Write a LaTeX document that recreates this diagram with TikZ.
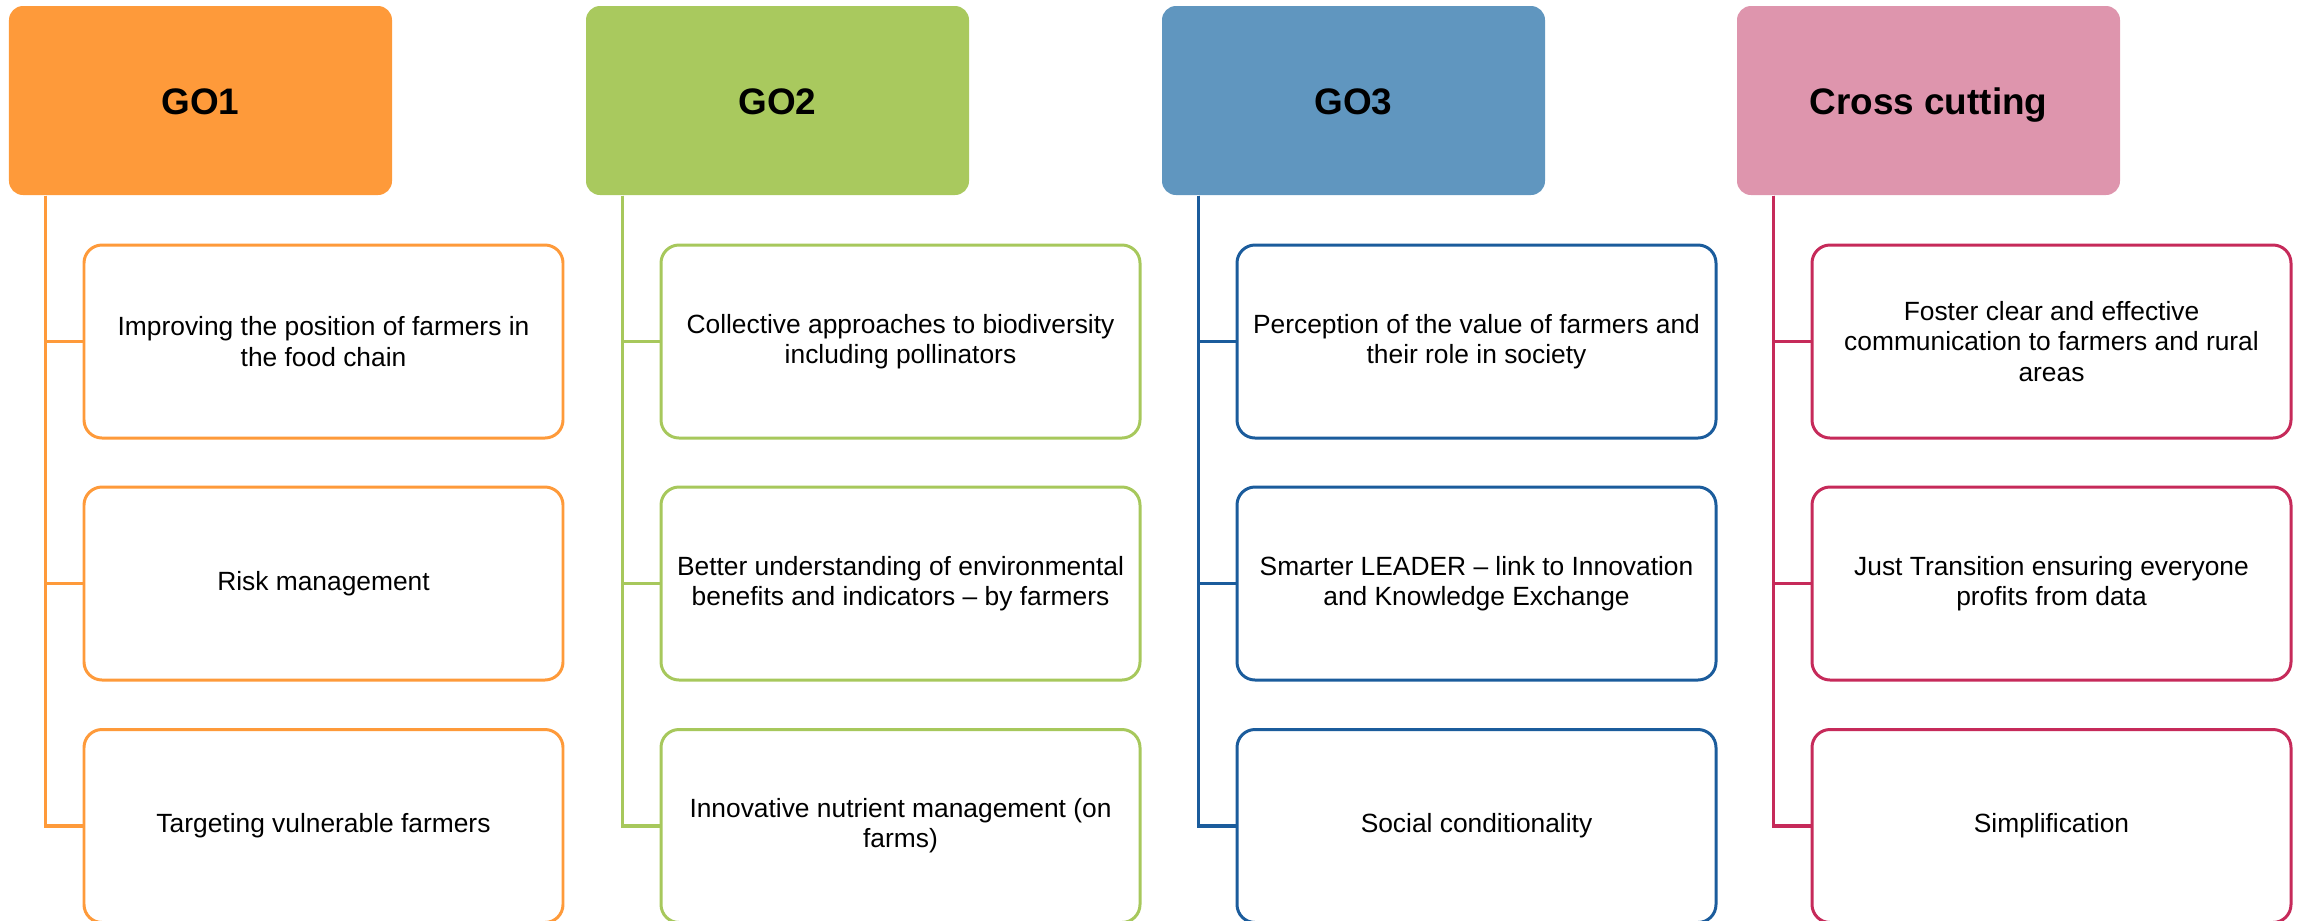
\documentclass[tikz,border=0pt]{standalone}
\usepackage{fontspec}
\setmainfont{Liberation Sans}
\usepackage{xcolor}
\usepackage{tikz}
\definecolor{orfill}{HTML}{FE9A3A}
\definecolor{orline}{HTML}{FE9A3A}
\definecolor{grfill}{HTML}{A9C95E}
\definecolor{grline}{HTML}{A7C85C}
\definecolor{blfill}{HTML}{6096BF}
\definecolor{blline}{HTML}{1B5C9C}
\definecolor{pkfill}{HTML}{DE95AD}
\definecolor{pkline}{HTML}{C62A5A}

\begin{document}
\begin{tikzpicture}[
 head/.style={rectangle, rounded corners=0.14cm, minimum width=3.83cm, minimum height=1.89cm, inner sep=0pt, text height=0.97em, text depth=0.2em, font=\fontsize{10.5}{12}\selectfont\bfseries},
 item/.style={rectangle, rounded corners=0.18cm, draw, line width=0.85pt, fill=white, minimum width=4.79cm, minimum height=1.93cm, inner sep=0pt, align=center, font=\fontsize{7.5}{8.6}\selectfont},
 link/.style={line width=0.9pt}]
\useasboundingbox (0,0) rectangle (23,-9.2);

% column heads
\foreach \x/\name/\col/\txt in {0.09/g1/or/GO1,5.86/g2/gr/GO2,11.62/g3/bl/GO3,17.37/g4/pk/Cross cutting}{
 \node[head, fill=\col fill] (\name) at (\x+1.915,-1.005) {\txt};
 }

% boxes under each head
\foreach \x/\y/\name/\col/\txt in {
 0.09/-3.415/g1a/or/{Improving the position of farmers in\\the food chain},
 0.09/-5.835/g1b/or/{Risk management},
 0.09/-8.26/g1c/or/{Targeting vulnerable farmers},
 5.86/-3.415/g2a/gr/{Collective approaches to biodiversity\\including pollinators},
 5.86/-5.835/g2b/gr/{Better understanding of environmental\\benefits and indicators -- by farmers},
 5.86/-8.26/g2c/gr/{Innovative nutrient management (on\\farms)},
 11.62/-3.415/g3a/bl/{Perception of the value of farmers and\\their role in society},
 11.62/-5.835/g3b/bl/{Smarter LEADER -- link to Innovation\\and Knowledge Exchange},
 11.62/-8.26/g3c/bl/{Social conditionality},
 17.37/-3.415/g4a/pk/{Foster clear and effective\\communication to farmers and rural\\areas},
 17.37/-5.835/g4b/pk/{Just Transition ensuring everyone\\profits from data},
 17.37/-8.26/g4c/pk/{Simplification}}{
 \node[item, draw=\col line] (\name) at (\x+3.145,\y) {\txt};
 }

% connectors
\foreach \h/\col in {g1/or,g2/gr,g3/bl,g4/pk}{
 \foreach \r in {a,b,c}
  \draw[link, \col line] ([xshift=0.37cm]\h.south west) |- (\h\r.west);
 }

\end{tikzpicture}
\end{document}
